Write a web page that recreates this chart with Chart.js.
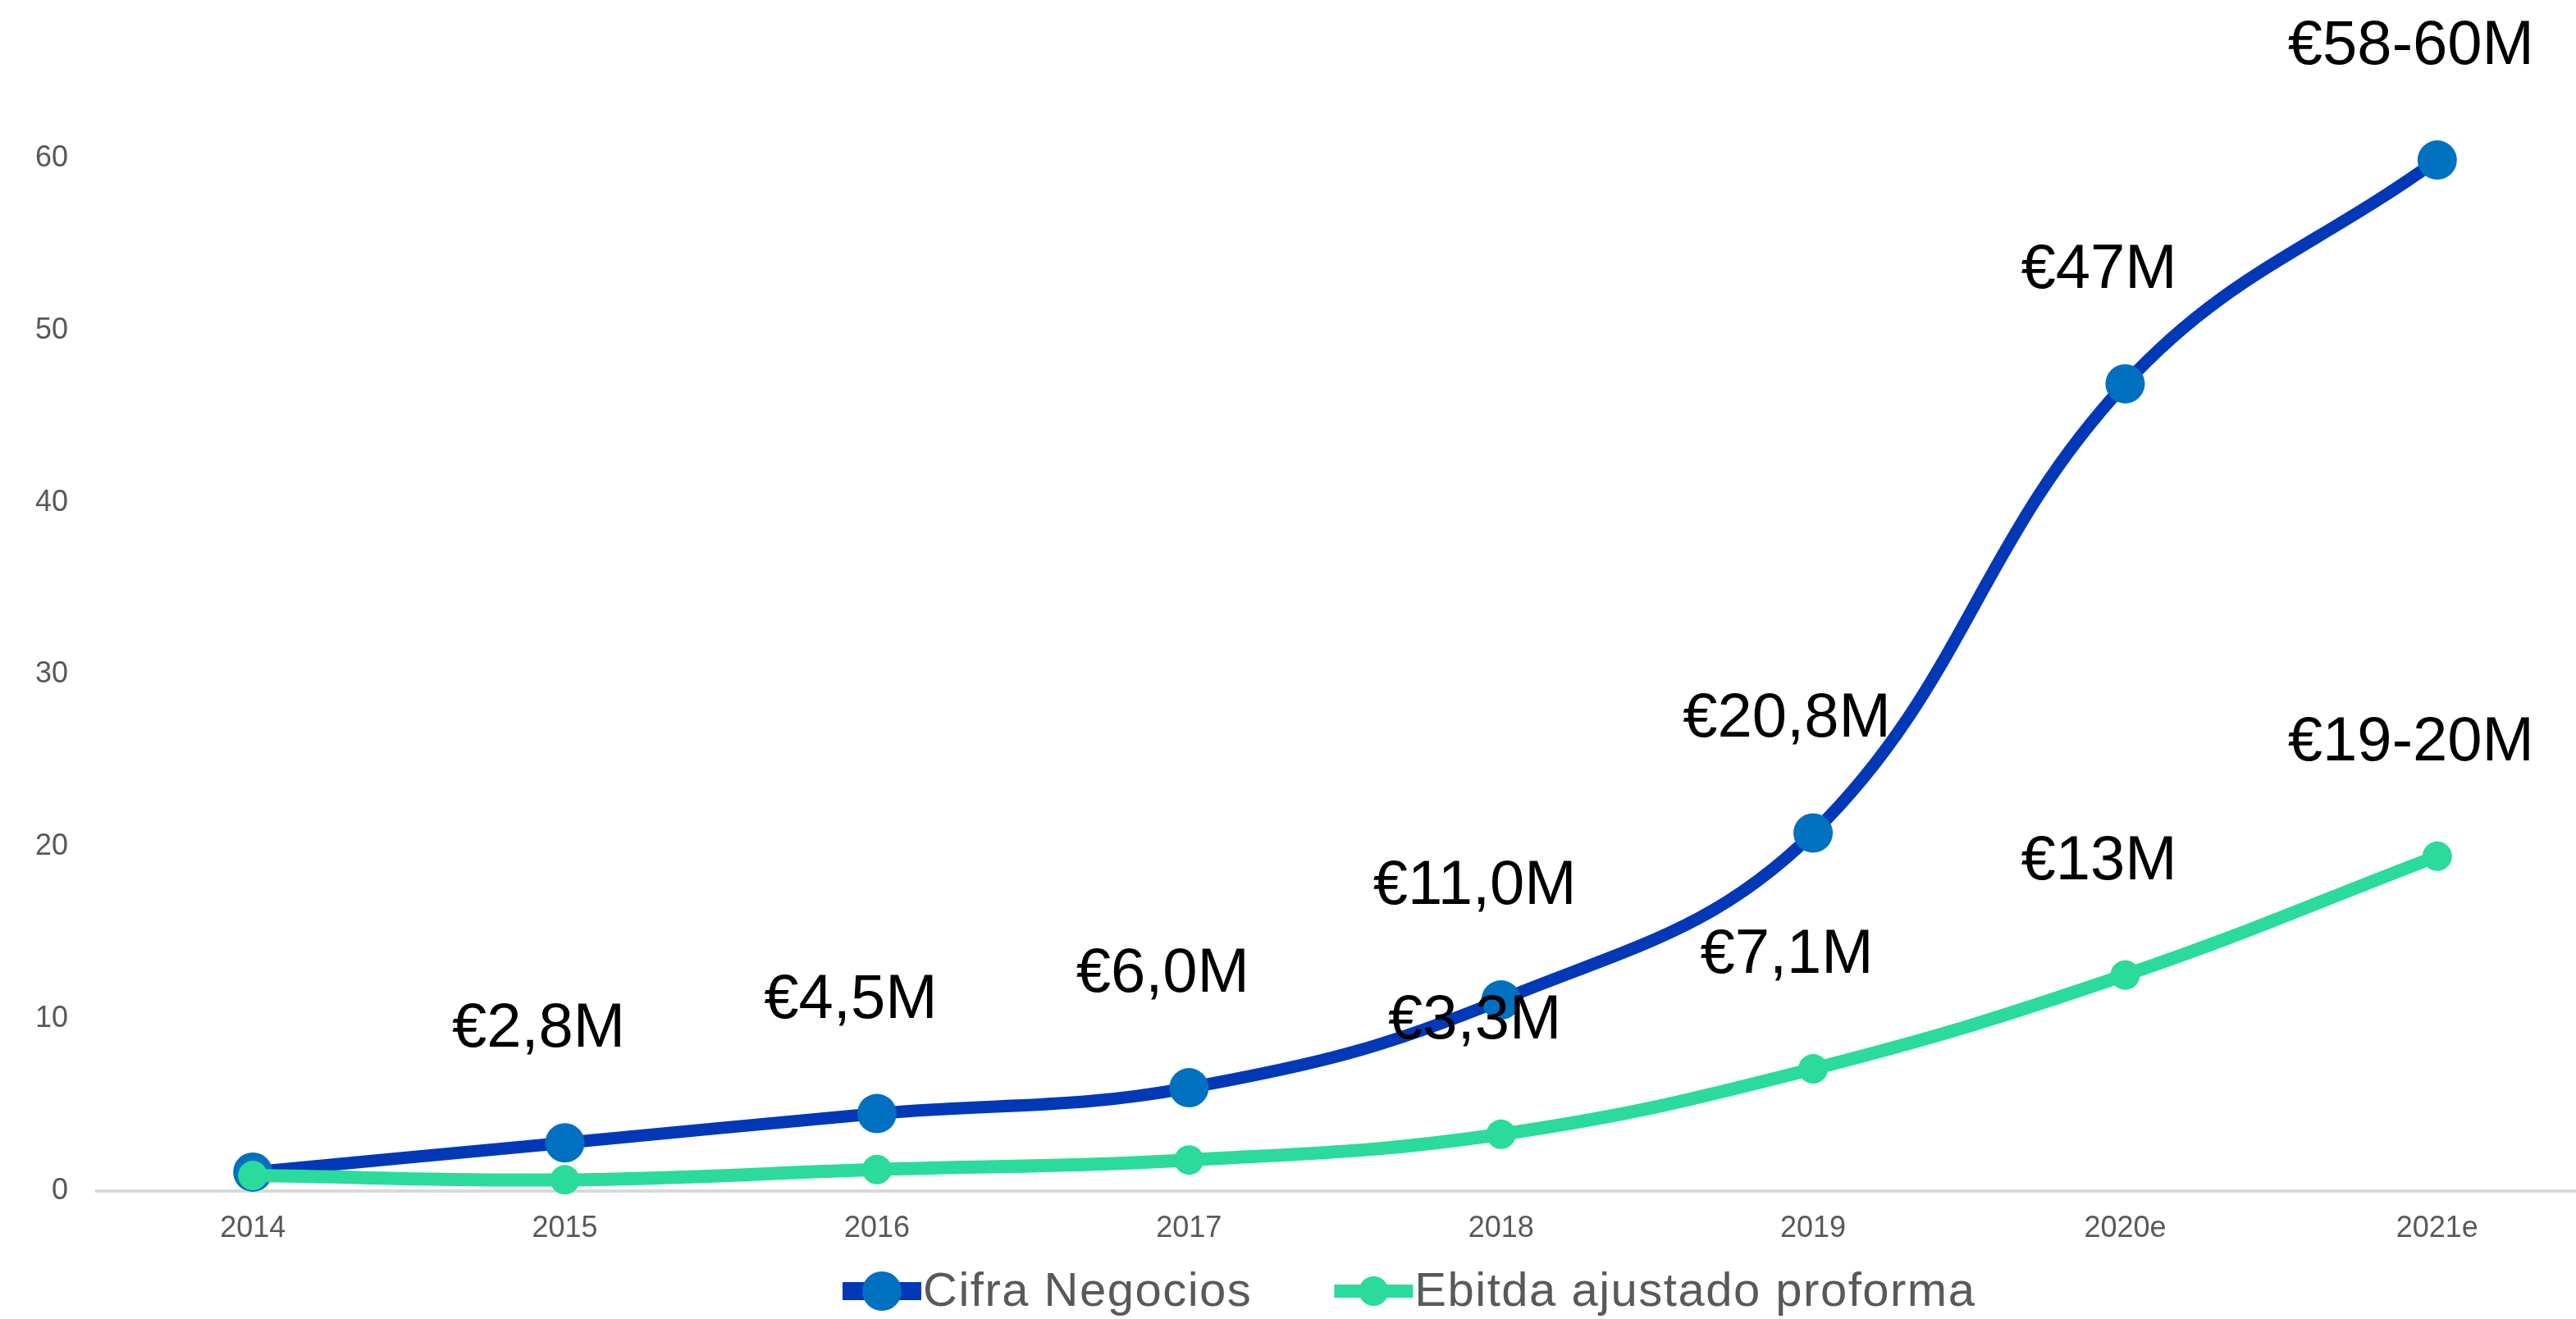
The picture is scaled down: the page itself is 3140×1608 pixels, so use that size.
<!DOCTYPE html>
<html>
<head>
<meta charset="utf-8">
<script src="https://cdn.jsdelivr.net/npm/chart.js@4.4.1/dist/chart.umd.min.js"></script>
<style>
  html, body { margin: 0; padding: 0; background: #fff; overflow: hidden; }
  #wrap { width: 3140px; height: 1608px; overflow: hidden; position: relative; }
  /* plot area runs past the right edge in the original, so the canvas is a bit wider than the page */
  #box { width: 3185px; height: 1608px; position: absolute; left: 0; top: 0; }
</style>
</head>
<body>
<div id="wrap"><div id="box"><canvas id="chart"></canvas></div></div>
<script>
// datos
var years = ['2014', '2015', '2016', '2017', '2018', '2019', '2020e', '2021e'];
var cifra = [1.1, 2.8, 4.5, 6.0, 11.1, 20.8, 46.9, 59.9];
var ebitda = [0.9, 0.65, 1.25, 1.8, 3.3, 7.1, 12.55, 19.45];
var cifraLabels = ['', '€2,8M', '€4,5M', '€6,0M', '€11,0M', '€20,8M', '€47M', '€58-60M'];
var ebitdaLabels = ['', '', '', '', '€3,3M', '€7,1M', '€13M', '€19-20M'];
var yTicks = [0, 10, 20, 30, 40, 50, 60];

var BLUE_LINE = '#0038B8';
var BLUE_DOT = '#0070C0';
var GREEN = '#2ADB9B';
var GREY = '#595959';

// etiquetas de valor encima de los puntos
var valueLabels = {
  id: 'valueLabels',
  afterDatasetsDraw: function(chart) {
    var ctx = chart.ctx;
    var sets = [cifraLabels, ebitdaLabels];
    ctx.save();
    ctx.font = '76px "Liberation Sans", Arial, sans-serif';
    ctx.fillStyle = '#000';
    ctx.textAlign = 'center';
    ctx.textBaseline = 'middle';
    sets.forEach(function(texts, i) {
      var meta = chart.getDatasetMeta(i);
      meta.data.forEach(function(pt, j) {
        if (texts[j]) ctx.fillText(texts[j], pt.x - 32, pt.y - 138);
      });
    });
    ctx.restore();
  }
};

// leyenda dibujada a mano (línea + punto como en Excel)
var lineLegend = {
  id: 'lineLegend',
  afterDraw: function(chart) {
    var ctx = chart.ctx;
    var y = 1574;
    var x = 1027;
    var items = [
      { text: 'Cifra Negocios', line: BLUE_LINE, dot: BLUE_DOT, lw: 22, r: 24 },
      { text: 'Ebitda ajustado proforma', line: GREEN, dot: GREEN, lw: 16, r: 18 }
    ];
    ctx.save();
    ctx.font = '58px "Liberation Sans", Arial, sans-serif';
    ctx.letterSpacing = '1.5px';
    ctx.textBaseline = 'middle';
    ctx.textAlign = 'left';
    items.forEach(function(it) {
      ctx.strokeStyle = it.line;
      ctx.lineWidth = it.lw;
      ctx.beginPath();
      ctx.moveTo(x, y);
      ctx.lineTo(x + 96, y);
      ctx.stroke();
      ctx.fillStyle = it.dot;
      ctx.beginPath();
      ctx.arc(x + 48, y, it.r, 0, Math.PI * 2);
      ctx.fill();
      ctx.fillStyle = GREY;
      ctx.fillText(it.text, x + 98, y + 2);
      x += 98 + ctx.measureText(it.text).width + 100;
    });
    ctx.restore();
  }
};

var ctx = document.getElementById('chart').getContext('2d');
var myChart = new Chart(ctx, {
  type: 'line',
  data: {
    labels: years,
    datasets: [{
      label: 'Cifra Negocios',
      data: cifra,
      borderColor: BLUE_LINE,
      borderWidth: 15,
      pointBackgroundColor: BLUE_DOT,
      pointBorderWidth: 0,
      pointRadius: 24,
      tension: 0.4,
      clip: false,
      order: 1
    }, {
      label: 'Ebitda ajustado proforma',
      data: ebitda,
      borderColor: GREEN,
      borderWidth: 16,
      pointBackgroundColor: GREEN,
      pointBorderWidth: 0,
      pointRadius: 18,
      tension: 0.4,
      clip: false,
      order: 0
    }]
  },
  options: {
    responsive: true,
    maintainAspectRatio: false,
    animation: false,
    layout: { padding: { top: 193, right: 20, left: 0, bottom: 0 } },
    plugins: {
      legend: { display: false },
      tooltip: { enabled: false }
    },
    scales: {
      x: {
        type: 'category',
        offset: true,
        grid: { display: false, drawTicks: false },
        border: { display: true, color: '#D9D9D9', width: 4 },
        ticks: { color: GREY, font: { family: '"Liberation Sans", Arial, sans-serif', size: 36 }, padding: 24, maxRotation: 0 },
        afterFit: function(s) { s.height = 156; }
      },
      y: {
        min: 0,
        max: 60,
        grid: { display: false, drawTicks: false },
        border: { display: false },
        afterBuildTicks: function(s) { s.ticks = yTicks.map(function(v) { return { value: v }; }); },
        ticks: { color: GREY, font: { family: '"Liberation Sans", Arial, sans-serif', size: 36 }, padding: 35 },
        afterFit: function(s) { s.width = 118; }
      }
    }
  },
  plugins: [valueLabels, lineLegend]
});
</script>
</body>
</html>
